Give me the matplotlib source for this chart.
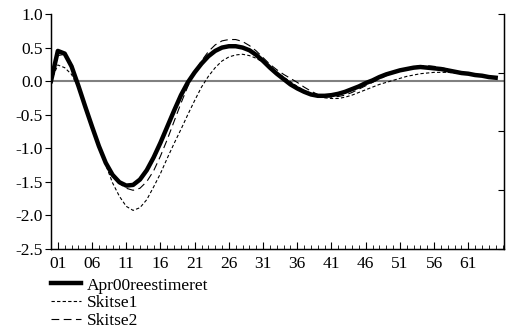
import numpy as np
import matplotlib.pyplot as plt
from matplotlib.ticker import MultipleLocator, FixedLocator

plt.rcParams['font.family'] = ['Liberation Serif', 'DejaVu Serif']

# Impulse responses (index 0..65)
apr00 = [0, 0.45, 0.41, 0.22, -0.07, -0.38, -0.68, -0.97, -1.22, -1.40, -1.51, -1.56,
         -1.55, -1.47, -1.33, -1.14, -0.92, -0.68, -0.44, -0.21, -0.02, 0.13, 0.26, 0.37,
         0.45, 0.50, 0.52, 0.52, 0.50, 0.46, 0.39, 0.30, 0.20, 0.11, 0.03, -0.05,
         -0.11, -0.16, -0.20, -0.22, -0.22, -0.21, -0.19, -0.16, -0.12, -0.08, -0.03,
         0.01, 0.06, 0.10, 0.13, 0.16, 0.18, 0.20, 0.21, 0.20, 0.19, 0.18, 0.16, 0.14,
         0.12, 0.11, 0.09, 0.08, 0.06, 0.05]
skitse1 = [0, 0.24, 0.20, 0.10, -0.10, -0.40, -0.68, -0.95, -1.25, -1.52, -1.72, -1.87,
           -1.93, -1.89, -1.77, -1.58, -1.38, -1.15, -0.93, -0.72, -0.50, -0.29, -0.09,
           0.07, 0.20, 0.30, 0.36, 0.39, 0.40, 0.38, 0.34, 0.28, 0.21, 0.13, 0.06, -0.01,
           -0.08, -0.14, -0.19, -0.23, -0.25, -0.26, -0.26, -0.24, -0.21, -0.17, -0.13,
           -0.09, -0.05, -0.02, 0.01, 0.04, 0.07, 0.09, 0.11, 0.12, 0.13, 0.13, 0.13,
           0.12, 0.11, 0.10, 0.08, 0.07, 0.05, 0.04]
skitse2 = [0, 0.38, 0.40, 0.25, -0.05, -0.36, -0.66, -0.95, -1.20, -1.40, -1.53, -1.60,
           -1.63, -1.60, -1.50, -1.34, -1.12, -0.87, -0.60, -0.33, -0.08, 0.13, 0.30,
           0.44, 0.54, 0.60, 0.62, 0.62, 0.59, 0.53, 0.45, 0.35, 0.25, 0.17, 0.10, 0.04,
           -0.02, -0.09, -0.15, -0.20, -0.23, -0.24, -0.23, -0.21, -0.17, -0.12, -0.07,
           -0.02, 0.03, 0.08, 0.12, 0.16, 0.19, 0.21, 0.23, 0.23, 0.22, 0.20, 0.18, 0.15,
           0.13, 0.11, 0.09, 0.08, 0.06, 0.05]
xlabels = ['01', '06', '11', '16', '21', '26', '31', '36', '41', '46', '51', '56', '61']
xlabel_pos = [1, 6, 11, 16, 21, 26, 31, 36, 41, 46, 51, 56, 61]
yticks = [-2.5, -2.0, -1.5, -1.0, -0.5, 0.0, 0.5, 1.0]

x = np.arange(len(apr00))

fig = plt.figure(figsize=(5.1, 3.35), dpi=100)
ax = fig.add_axes([0.1, 0.258, 0.888, 0.7])

ax.axhline(0, color='#808080', lw=1.5, zorder=1)
ax.plot(x, skitse1, color='black', lw=0.8, ls=(0, (3, 2)), label='Skitse1', zorder=3)
ax.plot(x, skitse2, color='black', lw=0.8, ls=(0, (7, 4)), label='Skitse2', zorder=3)
ax.plot(x, apr00, color='black', lw=3.2, label='Apr00reestimeret', zorder=4)

ax.set_xlim(0, 66.2)
ax.set_ylim(-2.5, 1.0)
ax.set_yticks(yticks)
ax.set_yticklabels([f'{v:.1f}' for v in yticks])
ax.xaxis.set_major_locator(FixedLocator(xlabel_pos))
ax.set_xticklabels(xlabels)
ax.xaxis.set_minor_locator(MultipleLocator(1))

ax.spines['top'].set_visible(False)
for s in ['left', 'bottom', 'right']:
    ax.spines[s].set_linewidth(1)
ax.tick_params(axis='y', direction='out', length=4, labelsize=12.5, pad=2)
ax.tick_params(axis='x', which='major', direction='in', length=5, labelsize=12.5, pad=5)
ax.tick_params(axis='x', which='minor', direction='in', length=3)

ax2 = ax.twinx()
ax2.set_ylim(0, 4)
ax2.set_yticks([0, 1, 2, 3, 4])
ax2.set_yticklabels([])
ax2.tick_params(axis='y', direction='in', length=4)
ax2.spines['top'].set_visible(False)

h, l = ax.get_legend_handles_labels()
order = [2, 0, 1]
fig.legend([h[i] for i in order], [l[i] for i in order], loc='upper left',
           bbox_to_anchor=(0.1, 0.172), frameon=False, fontsize=12.5,
           handlelength=1.7, handletextpad=0.35, labelspacing=0.1,
           borderpad=0, borderaxespad=0)

fig.savefig('out.png', dpi=100)
